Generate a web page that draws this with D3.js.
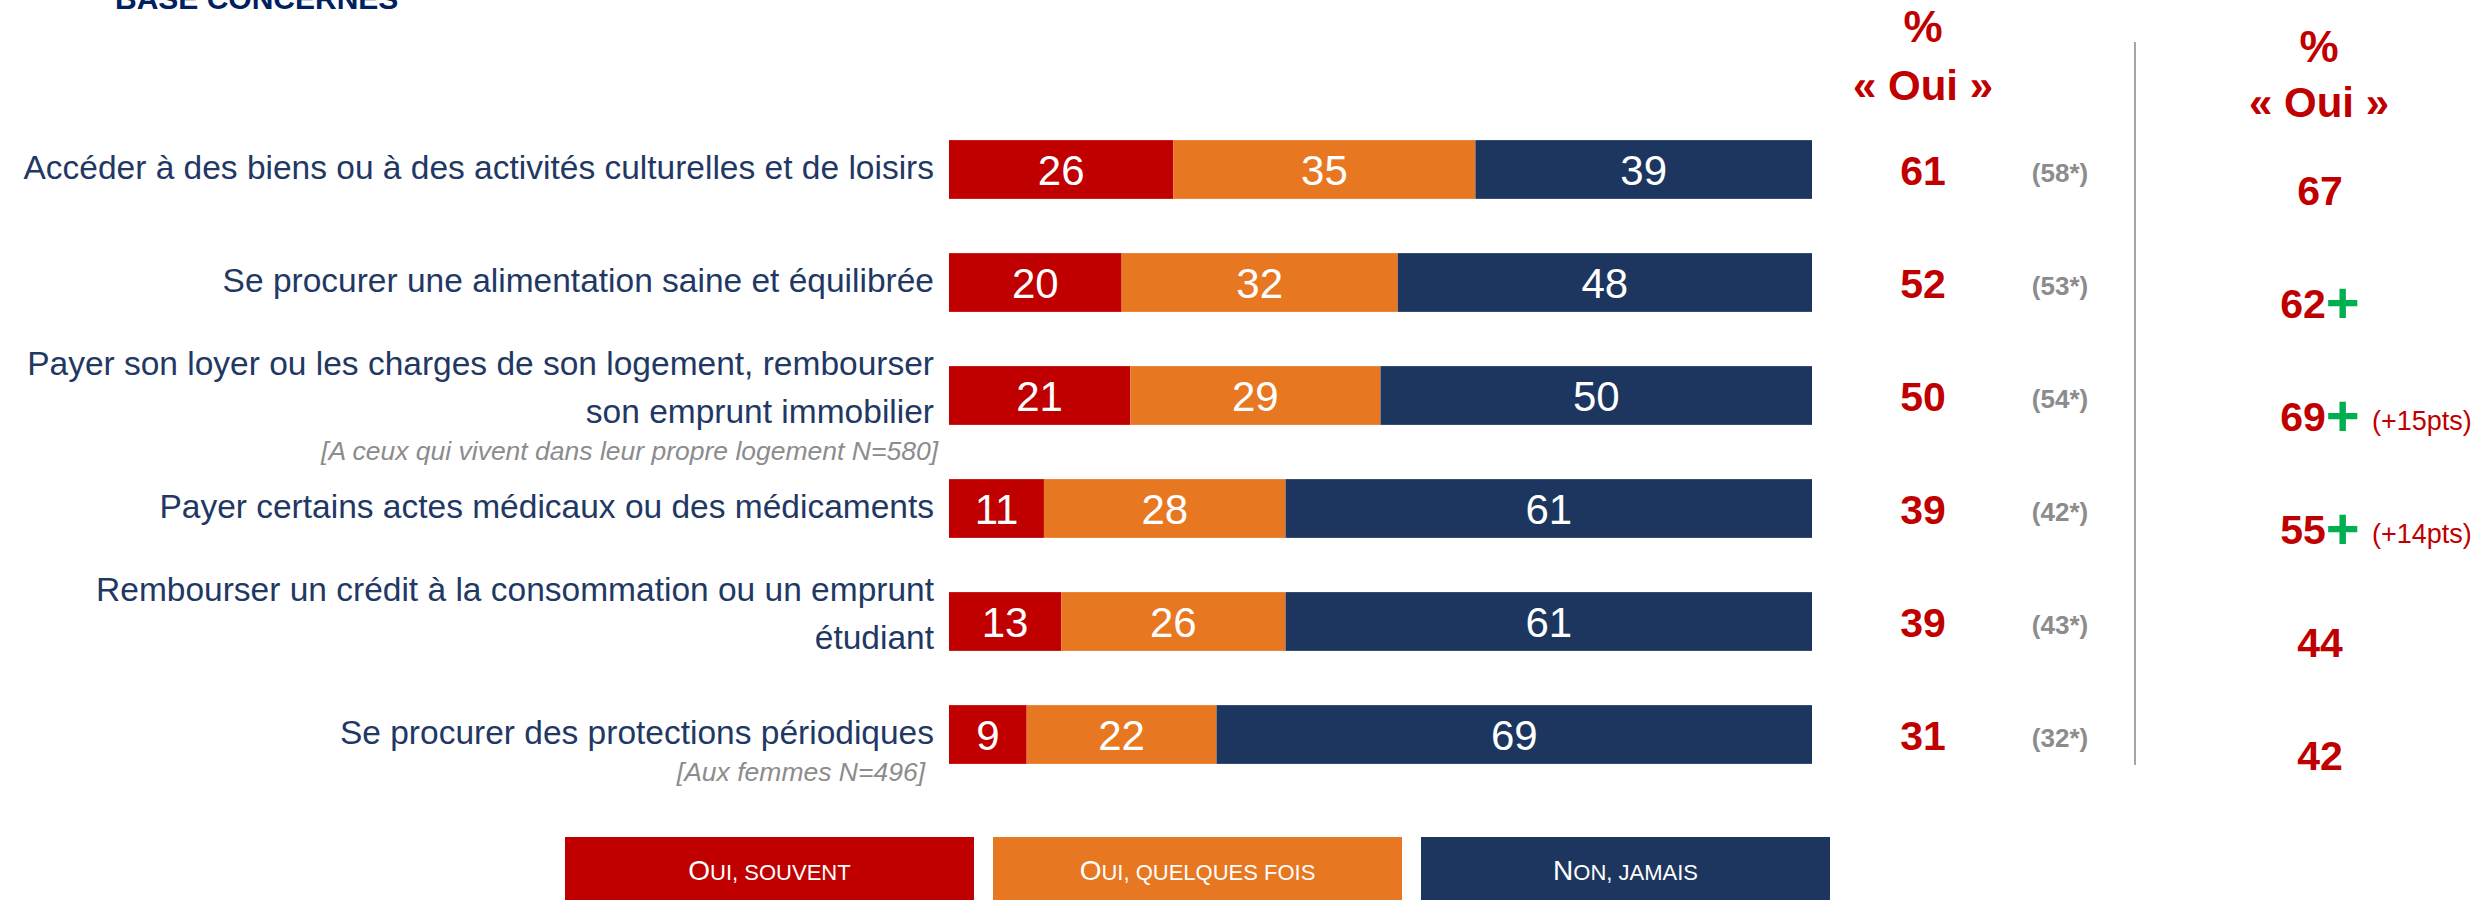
<!DOCTYPE html>
<html>
<head>
<meta charset="utf-8">
<script src="https://cdn.jsdelivr.net/npm/d3@7"></script>
<style>
body {margin: 0; background: #fff;}
text {font-family: 'Liberation Sans', Arial, sans-serif;}
</style>
</head>
<body>
<div id="graph"></div>
<script>
// data
var labels = [
	['Accéder à des biens ou à des activités culturelles et de loisirs'],
	['Se procurer une alimentation saine et équilibrée'],
	['Payer son loyer ou les charges de son logement,  rembourser', 'son emprunt immobilier'],
	['Payer certains actes médicaux ou des médicaments'],
	['Rembourser un crédit à la consommation ou un emprunt', 'étudiant'],
	['Se procurer des protections périodiques']
]
var notes = ['', '', '[A ceux qui vivent dans leur propre logement N=580]', '', '', '[Aux femmes N=496]']

var souvent  = [26, 20, 21, 11, 13, 9]
var quelques = [35, 32, 29, 28, 26, 22]
var jamais   = [39, 48, 50, 61, 61, 69]

var ouiTotal = [61, 52, 50, 39, 39, 31]
var ouiPrev  = ['(58*)', '(53*)', '(54*)', '(42*)', '(43*)', '(32*)']
var ouiOther = [67, 62, 69, 55, 44, 42]
var otherUp  = [false, true, true, true, false, false]
var otherPts = ['', '', '(+15pts)', '(+14pts)', '', '']

var legendCaps = [['O', 'ui, souvent'], ['O', 'ui, quelques fois'], ['N', 'on, jamais']]

var red = '#c00000', orange = '#e87722', navy = '#1d3660', txt = '#1f3864', gray = '#8c8c8c', green = '#00b050'
var colors = [red, orange, navy]

var width = 2481, height = 900

var svg = d3.select('#graph').append('svg')
	.attr('width', width).attr('height', height)

var x = d3.scaleLinear().domain([0, 100]).range([949, 1812])
var y = d3.scaleBand().domain(d3.range(labels.length)).range([113, 791])
	.paddingInner(0.48).paddingOuter(0.24)
var cy = i => y(i) + y.bandwidth()/2

// title (cut by the top edge, as in the slide)
svg.append('text').attr('x', 115).attr('y', 9)
	.attr('font-size', 30).attr('font-weight', 'bold').attr('fill', '#002060')
	.text('BASE CONCERNÉS')

// stacked bars
var rows = labels.map((d, i) => {
	var vals = [souvent[i], quelques[i], jamais[i]]
	var x0 = 0
	var segs = vals.map((v, j) => {
		var s = {i, j, v, x0}
		x0 += v
		return s
	})
	return {i, segs}
})

var rowSel = svg.selectAll('g.row').data(rows).join('g').attr('class', 'row')

var segSel = rowSel.selectAll('g.seg').data(d => d.segs).join('g')

segSel.append('rect')
	.attr('x', d => x(d.x0))
	.attr('width', d => x(d.x0 + d.v) - x(d.x0))
	.attr('y', d => y(d.i))
	.attr('height', y.bandwidth())
	.attr('fill', d => colors[d.j])

segSel.append('text')
	.attr('x', d => (x(d.x0) + x(d.x0 + d.v))/2)
	.attr('y', d => cy(d.i) + 15)
	.attr('text-anchor', 'middle')
	.attr('font-size', 42)
	.attr('fill', '#fff')
	.text(d => d.v)

// category labels
rowSel.each(function(d, i){
	var sel = d3.select(this)
	var lines = labels[i]
	var ys = lines.length == 1 ? [cy(i) + 9] : [cy(i) - 21, cy(i) + 27]
	lines.forEach((l, k) => {
		sel.append('text')
			.attr('x', 934).attr('y', ys[k])
			.attr('text-anchor', 'end')
			.attr('font-size', 33.5)
			.attr('fill', txt)
			.text(l)
	})
	if (notes[i]){
		sel.append('text')
			.attr('x', i == 5 ? 925 : 938).attr('y', ys[ys.length - 1] + 37)
			.attr('text-anchor', 'end')
			.attr('font-size', 26.5)
			.attr('font-style', 'italic')
			.attr('fill', gray)
			.text(notes[i])
	}
})

// % oui column
svg.selectAll('text.oui').data(ouiTotal).join('text')
	.attr('x', 1923).attr('y', (d, i) => cy(i) + 15)
	.attr('text-anchor', 'middle')
	.attr('font-size', 41).attr('font-weight', 'bold')
	.attr('fill', red)
	.text(d => d)

svg.selectAll('text.prev').data(ouiPrev).join('text')
	.attr('x', 2060).attr('y', (d, i) => cy(i) + 12)
	.attr('text-anchor', 'middle')
	.attr('font-size', 26).attr('font-weight', 'bold')
	.attr('fill', gray)
	.text(d => d)

// second column
var other = svg.selectAll('text.other').data(ouiOther).join('text')
	.attr('x', 2320).attr('y', (d, i) => cy(i) + 35)
	.attr('text-anchor', 'middle')
	.attr('font-size', 41).attr('font-weight', 'bold')
	.attr('fill', red)
other.append('tspan').text(d => d)
other.filter((d, i) => otherUp[i]).append('tspan')
	.attr('fill', green).attr('font-size', 58).attr('dy', 5).text('+')

svg.selectAll('text.pts').data(otherPts).join('text')
	.attr('x', 2372).attr('y', (d, i) => cy(i) + 34)
	.attr('font-size', 27)
	.attr('fill', red)
	.text(d => d)

// headers
var heads = [{x: 1923, y0: 42, y1: 100}, {x: 2319, y0: 62, y1: 117}]
heads.forEach(h => {
	svg.append('text').attr('x', h.x).attr('y', h.y0)
		.attr('text-anchor', 'middle').attr('font-size', 44).attr('font-weight', 'bold')
		.attr('fill', red).text('%')
	svg.append('text').attr('x', h.x).attr('y', h.y1)
		.attr('text-anchor', 'middle').attr('font-size', 42).attr('font-weight', 'bold')
		.attr('fill', red).text('« Oui »')
})

// separator
svg.append('line')
	.attr('x1', 2135).attr('x2', 2135).attr('y1', 42).attr('y2', 765)
	.attr('stroke', '#a6a6a6').attr('stroke-width', 2)

// legend
var lw = 409, lgap = 19
var leg = svg.selectAll('g.leg').data(legendCaps).join('g')
	.attr('transform', (d, i) => 'translate(' + (565 + i*(lw + lgap)) + ',837)')

leg.append('rect')
	.attr('width', lw).attr('height', 80)
	.attr('fill', (d, i) => colors[i])

var lt = leg.append('text')
	.attr('x', lw/2).attr('y', 43)
	.attr('text-anchor', 'middle')
	.attr('fill', '#fff')
lt.append('tspan').attr('font-size', 28).text(d => d[0])
lt.append('tspan').attr('font-size', 22).text(d => d[1].toUpperCase())
</script>
</body>
</html>
